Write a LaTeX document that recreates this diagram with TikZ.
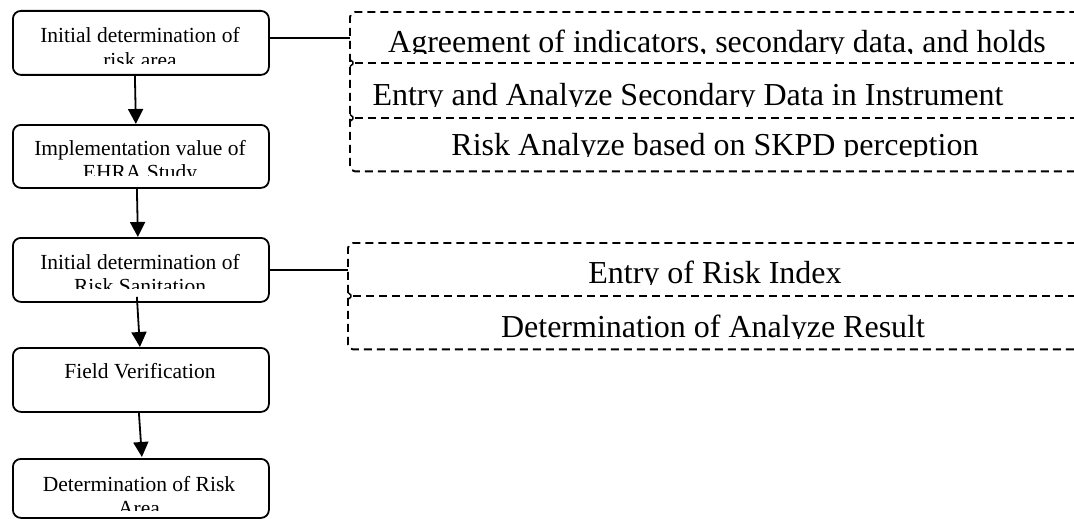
\documentclass[tikz,border=0pt]{standalone}
\usepackage{fontspec}
\setmainfont{Liberation Serif}
\usetikzlibrary{arrows.meta}
\begin{document}
\begin{tikzpicture}[x=1pt,y=-1pt,
  stepbox/.style={draw, line width=1.8pt, rounded corners=8pt, anchor=north west,
    inner sep=0pt, minimum width=256pt},
  rowbox/.style={anchor=north west, inner sep=0pt, minimum width=740pt},
  dashline/.style={dash pattern=on 8pt off 5pt, line width=1.9pt},
  rowtick/.style={line width=1.5pt, rounded corners=1.5pt},
  lefttxt/.style={font=\fontsize{21.5}{24}\selectfont, anchor=base, inner sep=0pt},
  righttxt/.style={font=\fontsize{32}{38}\selectfont, anchor=base, inner sep=0pt},
  flowarrow/.style={line width=1.8pt, -{Triangle[width=15pt,length=15pt]}},
  link/.style={line width=1.8pt}]
\useasboundingbox (0,0) rectangle (1074,519);
\clip (0,0) rectangle (1074,519);

% left column of process steps
\node[stepbox, minimum height=64pt] (l1) at (12,10) {};
\node[stepbox, minimum height=63pt] (l2) at (12,124) {};
\node[stepbox, minimum height=64pt] (l3) at (12,237) {};
\node[stepbox, minimum height=64pt] (l4) at (12,347) {};
\node[stepbox, minimum height=59pt] (l5) at (12,458) {};

\begin{scope}
  \clip (12,10) rectangle (268,63.5);
  \node[lefttxt] (t1a) at (140,43) {Initial determination of};
  \node[lefttxt] (t1b) at (140,67) {risk area};
\end{scope}
\begin{scope}
  \clip (12,124) rectangle (268,175);
  \node[lefttxt] (t2a) at (140,155) {Implementation value of};
  \node[lefttxt] (t2b) at (140,179) {EHRA Study};
\end{scope}
\begin{scope}
  \clip (12,237) rectangle (268,288);
  \node[lefttxt] (t3a) at (140,269) {Initial determination of};
  \node[lefttxt] (t3b) at (140,293) {Risk Sanitation};
\end{scope}
\node[lefttxt] (t4a) at (140,378) {Field Verification};
\begin{scope}
  \clip (12,458) rectangle (268,510);
  \node[lefttxt] (t5a) at (139,491) {Determination of Risk};
  \node[lefttxt] (t5b) at (139,515) {Area};
\end{scope}

% arrows between the steps
\draw[flowarrow] ([xshift=-6pt]l1.south) -- ([xshift=-5pt]l2.north);
\draw[flowarrow] ([xshift=-4pt]l2.south) -- ([xshift=-3pt]l3.north);
\draw[flowarrow] ([xshift=-4pt,yshift=6pt]l3.south) -- ([xshift=-1pt]l4.north);
\draw[flowarrow] ([xshift=-2pt]l4.south) -- ([xshift=1pt,yshift=1pt]l5.north);

% upper group of dashed rows
\node[rowbox, minimum height=51pt] (r1) at (350,12) {};
\node[rowbox, minimum height=55pt] (r2) at (350,63) {};
\node[rowbox, minimum height=53pt] (r3) at (350,118) {};
\draw[dashline, rounded corners=5pt] (r1.north east) -- (r1.north west) -- (r3.south west) -- (r3.south east);
\draw[dashline] ([xshift=5pt]r2.north west) -- (r2.north east);
\draw[dashline] ([xshift=5pt]r3.north west) -- (r3.north east);
\draw[rowtick] ([yshift=3.5pt]r2.north west) -- ([xshift=4pt]r2.north west) -- ([yshift=-3.5pt]r2.north west);
\draw[rowtick] ([yshift=3.5pt]r3.north west) -- ([xshift=4pt]r3.north west) -- ([yshift=-3.5pt]r3.north west);

\begin{scope}
  \clip (350,12) rectangle (1074,54);
  \node[righttxt] (s1) at (717,53) {Agreement of indicators, secondary data, and holds};
\end{scope}
\begin{scope}
  \clip (350,63) rectangle (1074,106);
  \node[righttxt] (s2) at (688,105) {Entry and Analyze Secondary Data in Instrument};
\end{scope}
\begin{scope}
  \clip (350,118) rectangle (1074,156);
  \node[righttxt] (s3) at (715,155) {Risk Analyze based on SKPD perception};
\end{scope}

% lower group of dashed rows
\node[rowbox, minimum height=53pt] (b1) at (348,243) {};
\node[rowbox, minimum height=53pt] (b2) at (348,296) {};
\draw[dashline, rounded corners=5pt] (b1.north east) -- (b1.north west) -- (b2.south west) -- (b2.south east);
\draw[dashline] ([xshift=5pt]b2.north west) -- (b2.north east);
\draw[rowtick] ([yshift=3.5pt]b2.north west) -- ([xshift=4pt]b2.north west) -- ([yshift=-3.5pt]b2.north west);

\begin{scope}
  \clip (348,243) rectangle (1074,284);
  \node[righttxt] (u1) at (715,283) {Entry of Risk Index};
\end{scope}
\begin{scope}
  \clip (348,296) rectangle (1074,338);
  \node[righttxt] (u2) at (713,337) {Determination of Analyze Result};
\end{scope}

% links from the steps to their groups
\draw[link] (r1.west -| l1.east) -- (r1.west);
\draw[link] ([xshift=-2pt]b1.west -| l3.east) -- (b1.west);
\end{tikzpicture}
\end{document}
